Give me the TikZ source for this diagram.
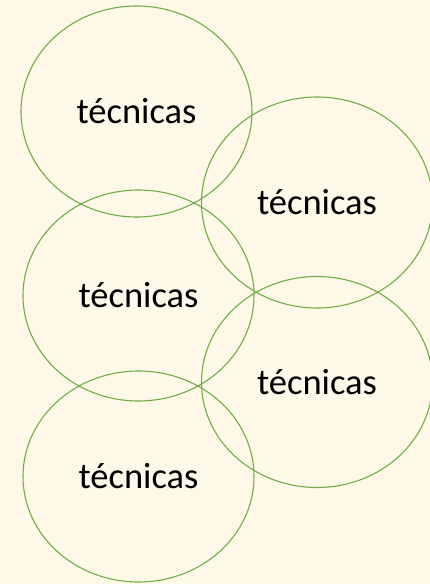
\documentclass[tikz,border=0pt]{standalone}
\usepackage{fontspec}
\setmainfont{Carlito}
\usetikzlibrary{shapes.geometric,positioning}
\definecolor{creambg}{HTML}{FEF8E9}
\definecolor{ringgreen}{HTML}{70AD47}

\begin{document}
\begin{tikzpicture}[x=1pt,y=-1pt,
  ring/.style={draw=ringgreen,line width=1.1pt,ellipse,minimum width=231pt,minimum height=211pt,inner sep=0pt,font=\fontsize{36.5}{42}\selectfont}]
\fill[creambg] (0,0) rectangle (430,584);
\useasboundingbox (0,0) rectangle (430,584);

\foreach \n/\x/\y in {1/136.5/111.5,2/317/202.5,3/138.5/295.5,4/317/382,5/138.5/476.5} {
\node (e\n) at (\x,\y) [ring] {técnicas};
};
\end{tikzpicture}
\end{document}
